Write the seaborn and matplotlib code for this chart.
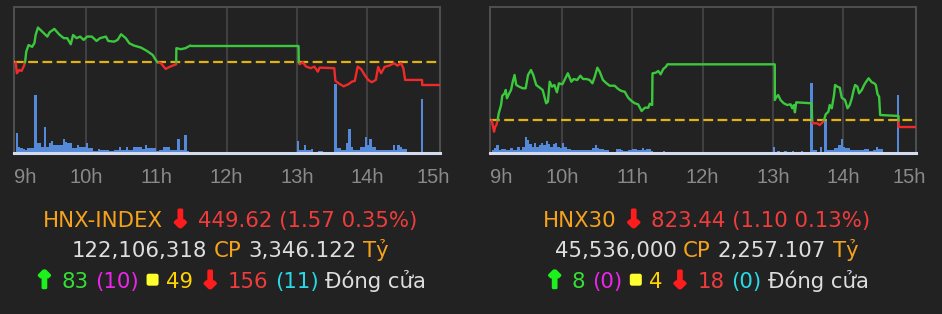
import numpy as np
import pandas as pd
import matplotlib
matplotlib.use("Agg")
import matplotlib.pyplot as plt
import matplotlib.patheffects as pe
from matplotlib.patches import FancyBboxPatch
from matplotlib.transforms import ScaledTranslation, IdentityTransform
import seaborn as sns

# ------------------------------------------------------------------ data
hour_ticks = [0, 60, 120, 180, 240, 300, 360]          # minutes since 09:00
hour_labels = ["9h", "10h", "11h", "12h", "13h", "14h", "15h"]

# HNX-INDEX  (time = minutes since 09:00, afternoon session continues at 240 = 13:00)
hnx_ref = 451.19
hnx_t = [0, 1, 3, 5, 7, 8, 9, 11, 14, 16, 17, 19, 22, 27, 29, 33, 37, 41, 44, 47,
         49, 52, 55, 58, 61, 65, 69, 72, 77, 79, 84, 87, 90, 94, 97, 101, 107, 112,
         117, 119, 121, 124, 128, 132, 137, 137.2, 141, 145, 149, 150,
         241.5, 241.7, 242.5, 245, 248, 252, 255, 258, 259.5, 272, 273, 277, 280,
         284, 287, 289.5, 292, 295, 298, 301, 304, 307.5, 309.5, 312, 315, 319, 323,
         326, 329, 331, 332.5, 347, 347.1, 362]
hnx_p = [451.19, 450.43, 450.66, 450.59, 450.93, 451.19, 451.92, 452.38, 452.25,
         452.52, 453.07, 453.58, 453.35, 452.96, 453.26, 453.49, 453.12, 452.85,
         452.85, 452.43, 453.07, 452.85, 452.96, 452.73, 452.96, 452.96, 452.66,
         452.85, 452.96, 452.66, 452.61, 452.73, 453.12, 452.85, 452.50, 452.34,
         452.20, 451.97, 451.69, 451.42, 451.19, 451.12, 450.73, 450.89, 451.05,
         452.16, 452.09, 452.16, 452.34, 452.31,
         452.31, 451.12, 451.05, 451.19, 450.89, 450.78, 450.89, 450.54, 450.82,
         450.78, 449.90, 449.67, 449.53, 449.67, 449.85, 449.90, 450.89, 450.71,
         450.31, 449.97, 449.81, 449.97, 450.87, 450.43, 450.87, 450.96, 451.12,
         450.96, 451.12, 450.78, 449.97, 449.97, 449.62, 449.62]
# volume per 2-minute slot (arbitrary units), morning 09:00-11:30, afternoon 13:00-15:00
hnx_vol_am = [20, 6, 5, 4, 3, 5, 5.3, 5.3, 58, 9.7,
              9.7, 6, 26, 6, 10, 12, 8, 8, 8, 8,
              14, 11, 10, 10, 5.3, 5.3, 8, 6, 6, 6,
              10, 5, 5, 2, 2, 4, 3.3, 3.3, 3.3, 3.3,
              2, 2, 3.3, 3.3, 6, 3.3, 3.3, 6, 2.7, 2.7,
              6, 6, 6, 6, 4, 8, 4.7, 4.7, 5.3, 5.3,
              2, 3.3, 3.3, 6, 6, 6, 3.3, 3.3, 3.3, 14,
              3.3, 3.3, 18, 2, 1.3]
hnx_vol_pm = [12, 2.7, 2.7, 8, 2.7, 3.3, 4, 0, 0, 2,
              2, 0, 0, 0, 0, 0, 69, 4.7, 4.7, 3.3,
              3.3, 10, 24, 6, 3.3, 3.3, 3.3, 6, 6, 16,
              8, 14, 6, 6, 3.3, 3.3, 3.3, 3.3, 3.3, 3.3,
              3.3, 8, 3.3, 8, 6, 4, 4, 0, 0, 0,
              0, 0, 0, 54, 0, 0, 0, 0, 0, 0,
              0]

# HNX30
h30_ref = 824.54
h30_t = [0, 1, 2, 3, 4, 5, 6, 8, 9, 11, 12, 13, 15, 16.5, 18, 19.5, 21, 23.5, 26.5,
         29, 31, 33.5, 35.5, 38, 41, 43.5, 46.5, 48, 49.5, 51.5, 53.5, 55.7, 57.4,
         60.3, 62.2, 65, 68, 70, 73, 75.7, 78, 81, 83.6, 86, 88, 90.2, 92.2, 95, 98,
         100.8, 105, 108, 110.8, 113.6, 116.5, 119.4, 122.2, 125, 128, 130.8, 133.7,
         135, 137, 137.3, 140.2, 142.2, 144.2, 146.5, 148.8, 150,
         241.7, 241.8, 242.3, 244.6, 246.6, 249.4, 252.3, 255.2, 256.6, 258, 258.9,
         260, 273.2, 273.6, 274.3, 278, 280, 282.3, 283.7, 285.2, 287.5, 288.6,
         290.4, 292.3, 293.2, 295.2, 297.2, 298.9, 301.7, 303.8, 305.7, 307.5, 308.9,
         310.3, 312.3, 313.7, 316, 318, 319.4, 321.8, 324.6, 326.6, 328, 329.5,
         330.8, 331.7, 347.4, 347.5, 362]
h30_p = [824.54, 823.60, 822.67, 823.49, 823.77, 824.54, 825.69, 827.05, 828.57,
         828.97, 829.51, 828.15, 828.97, 829.51, 830.87, 831.97, 830.33, 830.05,
         829.79, 829.79, 831.97, 832.79, 831.97, 830.33, 829.89, 829.51, 827.33,
         827.59, 830.87, 830.05, 830.33, 829.13, 830.61, 830.44, 831.15, 832.25,
         830.87, 831.31, 831.15, 831.85, 831.31, 831.31, 831.15, 830.61, 831.69,
         833.17, 832.51, 831.15, 830.61, 830.21, 830.21, 829.67, 829.35, 829.23,
         828.25, 827.71, 827.33, 827.16, 826.07, 826.61, 826.61, 827.26, 827.05,
         832.25, 832.35, 832.63, 832.08, 832.95, 833.33, 833.72,
         833.72, 827.87, 828.15, 828.69, 827.87, 827.33, 827.05, 827.16, 826.51,
         827.05, 825.85, 827.49, 827.33, 824.54, 824.05, 824.05, 823.77, 824.15,
         824.54, 825.52, 825.95, 827.05, 826.51, 828.69, 830.33, 830.05, 829.89,
         828.25, 827.87, 826.51, 827.05, 828.15, 829.35, 830.33, 830.05, 828.97,
         829.51, 830.33, 830.77, 831.43, 830.77, 830.61, 830.33, 828.80, 828.41,
         825.41, 825.25, 823.44, 823.44]
h30_vol_am = [2.7, 4.7, 8, 3.3, 4, 4, 3.3, 3.3, 5.3, 3.3,
              3.3, 6, 3.3, 6, 16, 12.7, 9.3, 6, 10, 6,
              8, 10, 8, 12, 8.7, 6, 8.7, 10, 6, 4.7,
              10, 6, 4, 4, 3.3, 3.3, 2.7, 2.7, 3.3, 3.3,
              2.7, 2.7, 2.7, 4.7, 8, 5.3, 4, 4, 3.3, 3.3,
              1.3, 1.3, 1.3, 4, 4, 2.7, 2, 2, 3.3, 3.3,
              4, 4, 3.3, 3.3, 5.3, 3.3, 4, 4, 2, 0,
              0, 0, 0, 2, 0]
h30_vol_pm = [6, 0, 2, 0, 0, 2, 0, 0, 2, 0,
              0, 0, 2, 0, 0, 0, 70, 3.3, 3.3, 0,
              6, 0, 32, 3.3, 2.7, 3.3, 5.3, 5.3, 8, 14,
              6, 4.7, 4.7, 3.3, 3.3, 2.7, 2.7, 2.7, 2.7, 4,
              4, 2, 2, 3.3, 6, 4, 4, 0, 0, 0,
              0, 0, 0, 58, 0, 0, 0, 0, 0, 0,
              0]

# summary texts ("SQUARE" = the yellow unchanged-count marker)
hnx_lines = [
    [("HNX-INDEX", "orange"), ("↓", "arrow_red"), ("449.62 (1.57 0.35%)", "red")],
    [("122,106,318", "white"), ("CP", "orange"), ("3,346.122", "white"), ("Tỷ", "orange")],
    [("↑", "arrow_green"), ("83", "green"), ("(10)", "magenta"), ("SQUARE", "yellow"),
     ("49", "gold"), ("↓", "arrow_red"), ("156", "red"), ("(11)", "cyan"),
     ("Đóng cửa", "white")],
]
h30_lines = [
    [("HNX30", "orange"), ("↓", "arrow_red"), ("823.44 (1.10 0.13%)", "red")],
    [("45,536,000", "white"), ("CP", "orange"), ("2,257.107", "white"), ("Tỷ", "orange")],
    [("↑", "arrow_green"), ("8", "green"), ("(0)", "magenta"), ("SQUARE", "yellow"),
     ("4", "gold"), ("↓", "arrow_red"), ("18", "red"), ("(0)", "cyan"),
     ("Đóng cửa", "white")],
]

# ------------------------------------------------------------------ style
BG = "#222222"
LINE_UP = "#3cc83c"
LINE_DN = "#ee2a2a"
REF_C = "#e2b20f"
VOL_C = "#5589da"
GRID_C = "#4a4a4a"
SPINE_C = "#4e4e4e"
BASE_C = "#d6dcef"
TICK_C = "#8a8a8a"
TXT = {"orange": "#f6a31c", "red": "#f03c3c", "arrow_red": "#ff1c1c",
       "white": "#dedede", "arrow_green": "#1df01d", "green": "#35e035",
       "magenta": "#ec25ec", "yellow": "#ffff2e", "gold": "#ffd200",
       "cyan": "#25dbe6"}

sns.set_theme(style="dark", rc={"axes.facecolor": BG, "figure.facecolor": BG})
plt.rcParams["font.family"] = ["DejaVu Sans"]

W, H = 942, 314
fig = plt.figure(figsize=(W / 100, H / 100), dpi=100, facecolor=BG)


def split_by_ref(t, p, ref):
    T, P = [t[0]], [p[0]]
    for t0, p0, t1, p1 in zip(t[:-1], p[:-1], t[1:], p[1:]):
        if (p0 - ref) * (p1 - ref) < 0:
            T.append(t0 + (t1 - t0) * (ref - p0) / (p1 - p0))
            P.append(ref)
        T.append(t1)
        P.append(p1)
    rows, run, prev = [], 0, None
    for i in range(len(T) - 1):
        side = "up" if (P[i] + P[i + 1]) / 2 >= ref else "down"
        if side != prev:
            run += 1
            rows.append((T[i], P[i], side, run))
            prev = side
        rows.append((T[i + 1], P[i + 1], side, run))
    return pd.DataFrame(rows, columns=["t", "p", "side", "run"])


def draw_chart(left_px, t, p, ref, vol_am, vol_pm, ylim):
    ax = fig.add_axes([left_px / W, 1 - 153 / H, 426 / W, 146 / H])
    ax2 = ax.twinx()
    ax.set_zorder(ax2.get_zorder() + 1)
    ax.patch.set_visible(False)

    vol_t = [2 * i for i in range(len(vol_am))] + [240 + 2 * i for i in range(len(vol_pm))]
    vol_v = list(vol_am) + list(vol_pm)
    for h in hour_ticks[1:-1]:
        ax2.axvline(h, color=GRID_C, lw=1.1, zorder=0)
    sns.histplot(x=vol_t, weights=vol_v, binwidth=2, binrange=(0, 362),
                 color=VOL_C, alpha=1, linewidth=0, ax=ax2, zorder=2)
    ax2.set_ylim(0, 146)
    ax2.set_ylabel("")
    ax2.set_yticks([])
    for s in ax2.spines.values():
        s.set_visible(False)

    ax.axhline(ref, color=REF_C, lw=1.6, ls=(0, (4.4, 2.0)), zorder=3)
    df = split_by_ref(t, p, ref)
    sns.lineplot(data=df, x="t", y="p", hue="side", units="run", estimator=None,
                 sort=False, palette={"up": LINE_UP, "down": LINE_DN},
                 legend=False, linewidth=1.7, ax=ax, zorder=4)
    ax.set_xlim(-1.46, 362.3)
    ax.set_ylim(*ylim)
    ax.set_xlabel("")
    ax.set_ylabel("")
    ax.set_yticks([])
    ax.grid(False)
    ax.set_xticks(hour_ticks)
    ax.set_xticklabels(hour_labels)
    ax.tick_params(axis="x", length=0, pad=10.5, labelsize=14.5, labelcolor=TICK_C)
    for lbl in ax.get_xticklabels():
        lbl.set_fontfamily(["Liberation Sans", "DejaVu Sans"])
    labels = ax.get_xticklabels()
    labels[0].set_transform(labels[0].get_transform() + ScaledTranslation(9 / 100, 0, fig.dpi_scale_trans))
    labels[-1].set_transform(labels[-1].get_transform() + ScaledTranslation(-4 / 100, 0, fig.dpi_scale_trans))
    for name in ("top", "left", "right"):
        ax.spines[name].set_color(SPINE_C)
        ax.spines[name].set_linewidth(1.5)
        ax.spines[name].set_visible(True)
    ax.spines["bottom"].set_color(BASE_C)
    ax.spines["bottom"].set_linewidth(2.2)
    ax.spines["bottom"].set_visible(True)
    return ax


draw_chart(14, hnx_t, hnx_p, hnx_ref, hnx_vol_am, hnx_vol_pm, (444.93, 455.0))
draw_chart(490, h30_t, h30_p, h30_ref, h30_vol_am, h30_vol_pm, (819.18, 843.12))

renderer = fig.canvas.get_renderer()
FS = 15.3
SQ = 12.0  # px


def text_width(s, size=FS):
    tt = fig.text(0, 0, s, fontsize=size)
    w = tt.get_window_extent(renderer=renderer).width
    tt.remove()
    return w


SPACE = text_width("a a") - text_width("aa")


def rich_line(runs, cx, base_y):
    items = []
    for s, key in runs:
        if s == "SQUARE":
            items.append((None, SQ + 1, key))
            continue
        kw = dict(color=TXT[key], fontsize=FS, ha="left", va="baseline")
        extra = 0
        if key.startswith("arrow"):
            kw["fontsize"] = 16.5
            kw["fontweight"] = "bold"
            kw["path_effects"] = [pe.withStroke(linewidth=2.2, foreground=TXT[key])]
            extra = 2
        tt = fig.text(0, 1 - base_y / H, s, **kw)
        items.append((tt, tt.get_window_extent(renderer=renderer).width + extra, key))
    total = sum(w for _, w, _ in items) + SPACE * (len(items) - 1)
    x = cx - total / 2
    for tt, w, key in items:
        if tt is None:
            bottom = base_y - 2.0
            patch = FancyBboxPatch((x + 0.5, H - bottom), SQ, SQ,
                                   boxstyle="round,pad=0,rounding_size=2.2",
                                   transform=IdentityTransform(), facecolor=TXT[key],
                                   edgecolor="none")
            fig.patches.append(patch)
        else:
            off = 1 if key.startswith("arrow") else 0
            tt.set_x((x + off) / W)
        x += w + SPACE


for lines, cx in ((hnx_lines, 230), (h30_lines, 706.5)):
    for runs, by in zip(lines, (226.7, 256.7, 287.7)):
        rich_line(runs, cx, by)

fig.savefig("out.png", dpi=100, facecolor=BG)
